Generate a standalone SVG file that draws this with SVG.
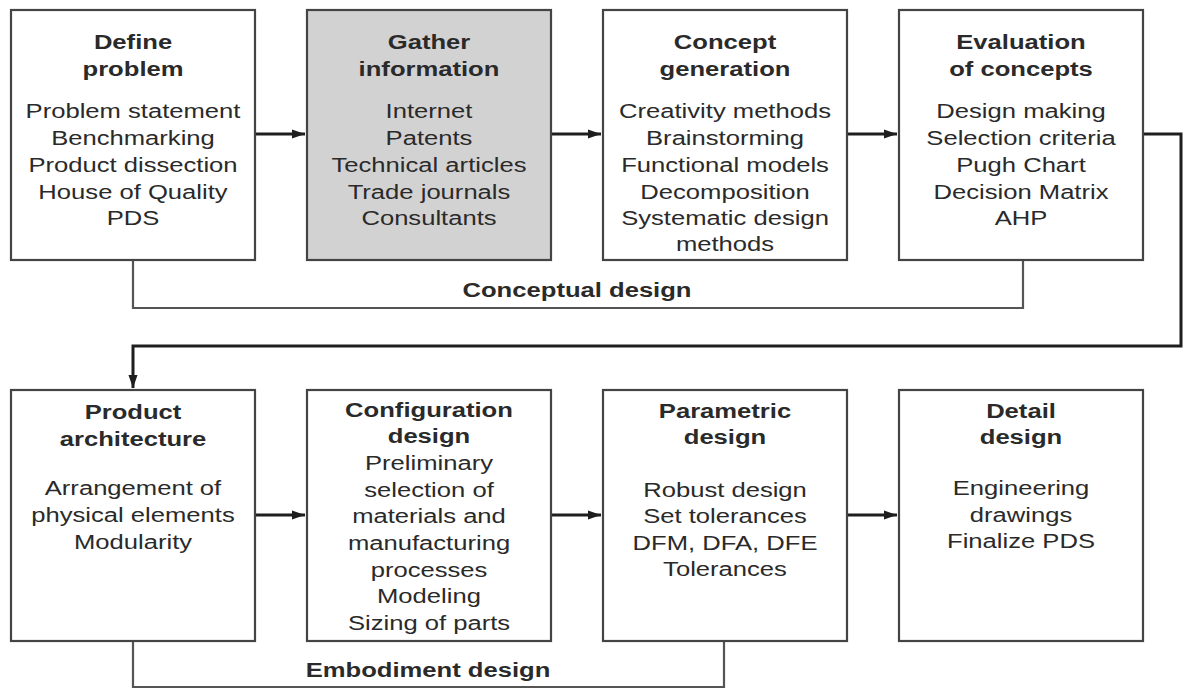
<svg xmlns="http://www.w3.org/2000/svg" width="1184" height="689" viewBox="0 0 1184 689">
<style>
.box{fill:#fff;stroke:#444;stroke-width:2.2}
.gray{fill:#d3d2d3}
.t{font-family:"Liberation Sans",Arial,sans-serif;font-size:21px;fill:#2a2a2a;text-anchor:middle}
.b{font-weight:bold}
.conn{fill:none;stroke:#1e1e1e;stroke-width:3}
.brk{fill:none;stroke:#555;stroke-width:2.2}
</style>
<defs>
<marker id="ah" viewBox="0 0 10 10" refX="10" refY="5" markerWidth="4.5" markerHeight="4.5" orient="auto" markerUnits="strokeWidth">
<path d="M0,1.5 L10,5 L0,8.5 z" fill="#1e1e1e"/>
</marker>
</defs>
<rect width="1184" height="689" fill="#fff"/>

<g id="connectors">
<path class="conn" d="M255,134 H305" marker-end="url(#ah)"/>
<path class="conn" d="M551,134 H601" marker-end="url(#ah)"/>
<path class="conn" d="M847,134 H897" marker-end="url(#ah)"/>
<path class="conn" d="M1143,134 H1181 V346 H133 V388" marker-end="url(#ah)"/>
<path class="conn" d="M255,515 H305" marker-end="url(#ah)"/>
<path class="conn" d="M551,515 H601" marker-end="url(#ah)"/>
<path class="conn" d="M847,515 H897" marker-end="url(#ah)"/>
<path class="brk" d="M133,261 V308 H1023 V261"/>
<path class="brk" d="M133,641 V687 H724 V641"/>
</g>

<g id="label-conceptual">
<g transform="translate(577,0) scale(1.22,1)"><text class="t b" x="0" y="297">Conceptual design</text></g>
</g>
<g id="label-embodiment">
<g transform="translate(428,0) scale(1.22,1)"><text class="t b" x="0" y="677">Embodiment design</text></g>
</g>

<g id="define-problem">
<rect class="box" x="11" y="10" width="244" height="250"/>
<g transform="translate(133,0) scale(1.22,1)">
<text class="t b" x="0" y="49">Define</text>
<text class="t b" x="0" y="76">problem</text>
<text class="t" x="0" y="118">Problem statement</text>
<text class="t" x="0" y="145">Benchmarking</text>
<text class="t" x="0" y="172">Product dissection</text>
<text class="t" x="0" y="199">House of Quality</text>
<text class="t" x="0" y="225">PDS</text>
</g>
</g>

<g id="gather-information">
<rect class="box gray" x="307" y="10" width="244" height="250"/>
<g transform="translate(429,0) scale(1.22,1)">
<text class="t b" x="0" y="49">Gather</text>
<text class="t b" x="0" y="76">information</text>
<text class="t" x="0" y="118">Internet</text>
<text class="t" x="0" y="145">Patents</text>
<text class="t" x="0" y="172">Technical articles</text>
<text class="t" x="0" y="199">Trade journals</text>
<text class="t" x="0" y="225">Consultants</text>
</g>
</g>

<g id="concept-generation">
<rect class="box" x="603" y="10" width="244" height="250"/>
<g transform="translate(725,0) scale(1.22,1)">
<text class="t b" x="0" y="49">Concept</text>
<text class="t b" x="0" y="76">generation</text>
<text class="t" x="0" y="118">Creativity methods</text>
<text class="t" x="0" y="145">Brainstorming</text>
<text class="t" x="0" y="172">Functional models</text>
<text class="t" x="0" y="199">Decomposition</text>
<text class="t" x="0" y="225">Systematic design</text>
<text class="t" x="0" y="251">methods</text>
</g>
</g>

<g id="evaluation-of-concepts">
<rect class="box" x="899" y="10" width="244" height="250"/>
<g transform="translate(1021,0) scale(1.22,1)">
<text class="t b" x="0" y="49">Evaluation</text>
<text class="t b" x="0" y="76">of concepts</text>
<text class="t" x="0" y="118">Design making</text>
<text class="t" x="0" y="145">Selection criteria</text>
<text class="t" x="0" y="172">Pugh Chart</text>
<text class="t" x="0" y="199">Decision Matrix</text>
<text class="t" x="0" y="225">AHP</text>
</g>
</g>

<g id="product-architecture">
<rect class="box" x="11" y="390" width="244" height="251"/>
<g transform="translate(133,0) scale(1.22,1)">
<text class="t b" x="0" y="419">Product</text>
<text class="t b" x="0" y="446">architecture</text>
<text class="t" x="0" y="495">Arrangement of</text>
<text class="t" x="0" y="522">physical elements</text>
<text class="t" x="0" y="549">Modularity</text>
</g>
</g>

<g id="configuration-design">
<rect class="box" x="307" y="390" width="244" height="251"/>
<g transform="translate(429,0) scale(1.22,1)">
<text class="t b" x="0" y="417">Configuration</text>
<text class="t b" x="0" y="443">design</text>
<text class="t" x="0" y="470">Preliminary</text>
<text class="t" x="0" y="497">selection of</text>
<text class="t" x="0" y="523">materials and</text>
<text class="t" x="0" y="550">manufacturing</text>
<text class="t" x="0" y="577">processes</text>
<text class="t" x="0" y="603">Modeling</text>
<text class="t" x="0" y="630">Sizing of parts</text>
</g>
</g>

<g id="parametric-design">
<rect class="box" x="603" y="390" width="244" height="251"/>
<g transform="translate(725,0) scale(1.22,1)">
<text class="t b" x="0" y="418">Parametric</text>
<text class="t b" x="0" y="444">design</text>
<text class="t" x="0" y="497">Robust design</text>
<text class="t" x="0" y="523">Set tolerances</text>
<text class="t" x="0" y="550">DFM, DFA, DFE</text>
<text class="t" x="0" y="576">Tolerances</text>
</g>
</g>

<g id="detail-design">
<rect class="box" x="899" y="390" width="244" height="251"/>
<g transform="translate(1021,0) scale(1.22,1)">
<text class="t b" x="0" y="418">Detail</text>
<text class="t b" x="0" y="444">design</text>
<text class="t" x="0" y="495">Engineering</text>
<text class="t" x="0" y="522">drawings</text>
<text class="t" x="0" y="548">Finalize PDS</text>
</g>
</g>
</svg>
